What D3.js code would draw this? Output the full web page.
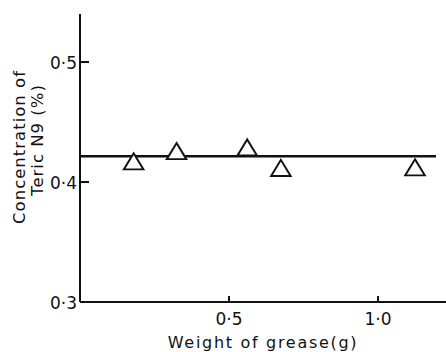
<!DOCTYPE html>
<html>
<head>
<meta charset="utf-8">
<script src="https://cdn.jsdelivr.net/npm/d3@7"></script>
<style>
  body { margin: 0; background: #fff; }
  svg text { font-family: "DejaVu Sans", sans-serif; fill: #111; }
</style>
</head>
<body>
<div id="chart"></div>
<script>
// data
const weights = [0.18, 0.324, 0.561, 0.674, 1.124];
const conc = [0.415, 0.4235, 0.4265, 0.4095, 0.410];
const meanLevel = 0.4214;
const xTicks = [0.5, 1.0];
const yTicks = [0.3, 0.4, 0.5];
const xTickLabels = ['0·5', '1·0'];
const yTickLabels = ['0·3', '0·4', '0·5'];

const width = 446, height = 352;
const x0 = 80, y0 = 302;

const svg = d3.select('#chart').append('svg')
  .attr('width', width).attr('height', height);

const x = d3.scaleLinear().domain([0, 1.228]).range([x0, 446]);
const y = d3.scaleLinear().domain([0.3, 0.54]).range([y0, 14]);

const ink = '#111';

// axes lines
svg.append('line').attr('x1', x0).attr('x2', x0).attr('y1', y(0.54)).attr('y2', y0)
  .style('stroke', ink).style('stroke-width', 2);
svg.append('line').attr('x1', x0).attr('x2', x.range()[1]).attr('y1', y0).attr('y2', y0)
  .style('stroke', ink).style('stroke-width', 2);

// y ticks (inside)
svg.selectAll('line.ytick').data(yTicks.filter(d => d > 0.3)).enter().append('line')
  .attr('class', 'ytick')
  .attr('x1', x0).attr('x2', x0 + 9).attr('y1', d => y(d)).attr('y2', d => y(d))
  .style('stroke', ink).style('stroke-width', 2);
svg.selectAll('text.ylab').data(yTicks).enter().append('text')
  .attr('class', 'ylab')
  .attr('x', x0 - 3).attr('y', d => y(d) + 7)
  .attr('text-anchor', 'end').style('font-size', '17px')
  .text((d, i) => yTickLabels[i]);

// x ticks (inside)
svg.selectAll('line.xtick').data(xTicks).enter().append('line')
  .attr('class', 'xtick')
  .attr('x1', d => x(d)).attr('x2', d => x(d)).attr('y1', y0).attr('y2', y0 - 6)
  .style('stroke', ink).style('stroke-width', 2);
svg.selectAll('text.xlab').data(xTicks).enter().append('text')
  .attr('class', 'xlab')
  .attr('x', d => x(d)).attr('y', y0 + 23)
  .attr('text-anchor', 'middle').style('font-size', '17px')
  .text((d, i) => xTickLabels[i]);

// axis titles
svg.append('text').attr('x', 263).attr('y', 348)
  .attr('text-anchor', 'middle').style('font-size', '16px')
  .style('letter-spacing', '1.7px')
  .text('Weight of grease(g)');
const yt = svg.append('g').attr('transform', 'translate(0,147) rotate(-90)');
yt.append('text').attr('x', 0).attr('y', 25)
  .attr('text-anchor', 'middle').style('font-size', '16.5px')
  .style('letter-spacing', '1px')
  .text('Concentration of');
yt.append('text').attr('x', 7).attr('y', 43)
  .attr('text-anchor', 'middle').style('font-size', '16.5px')
  .style('letter-spacing', '1px')
  .text('Teric N9 (%)');

// mean line
svg.append('line').attr('x1', x0).attr('x2', 436)
  .attr('y1', y(meanLevel)).attr('y2', y(meanLevel))
  .style('stroke', ink).style('stroke-width', 2.5);

// triangles
const tri = d3.symbol().type(d3.symbolTriangle).size(165);
svg.selectAll('path.pt').data(weights).enter().append('path')
  .attr('class', 'pt')
  .attr('d', tri)
  .attr('transform', (d, i) => 'translate(' + x(d) + ',' + y(conc[i]) + ') scale(1,0.95)')
  .style('fill', '#fff').style('stroke', ink).style('stroke-width', 2);
</script>
</body>
</html>
